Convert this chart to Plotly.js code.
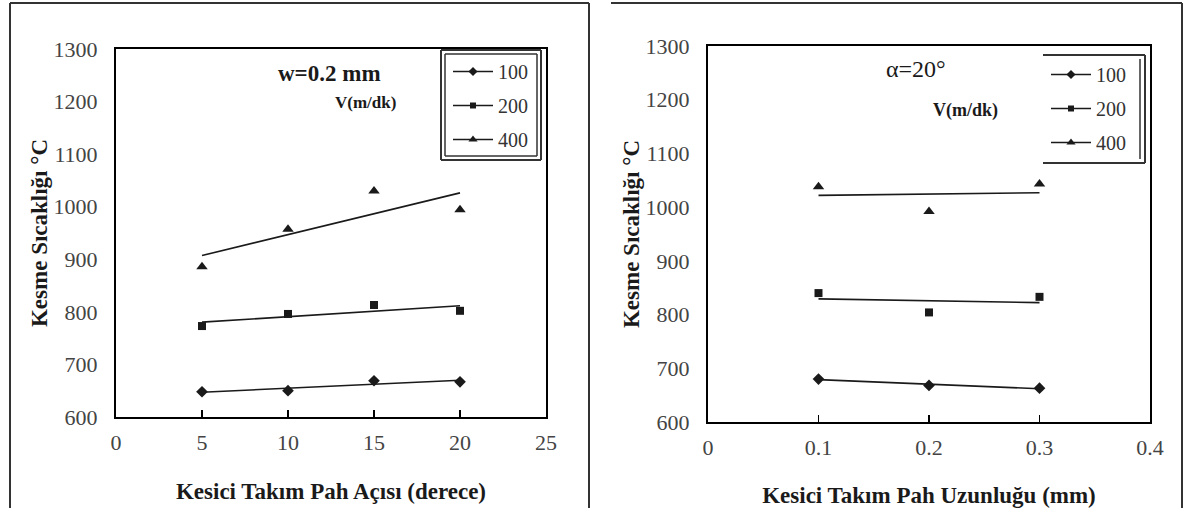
<!DOCTYPE html>
<html>
<head>
<meta charset="utf-8">
<script src="https://cdn.plot.ly/plotly-3.0.1.min.js"></script>
<style>
  html, body { margin: 0; padding: 0; background: #fff; }
  #chart { width: 1188px; height: 508px; }
</style>
</head>
<body>
<div id="chart"></div>
<script>
// Cutting temperature vs. chamfer angle (left) and chamfer length (right)
const speeds = ['100', '200', '400'];            // cutting speed V (m/dk)
const symbols = ['diamond', 'square', 'triangle-up'];
const markerSizes = [9, 8, 10];

// Left panel: chamfer angle (derece), w = 0.2 mm
const angle = [5, 10, 15, 20];
const tempAngleV100 = [648, 650, 669, 667];
const tempAngleV200 = [773, 796, 813, 802];
const tempAngleV400 = [886, 957, 1030, 994];

// Right panel: chamfer length (mm), alpha = 20°
const chamferLength = [0.1, 0.2, 0.3];
const tempLengthV100 = [680, 668, 663];
const tempLengthV200 = [840, 804, 833];
const tempLengthV400 = [1038, 992, 1043];

const leftTicks = [0, 5, 10, 15, 20, 25];
const rightTicks = [0, 0.1, 0.2, 0.3, 0.4];
const yTicks = [600, 700, 800, 900, 1000, 1100, 1200, 1300];

const W = 1188, H = 508;
const px = x => x / W;
const py = y => 1 - y / H;
const FONT = 'Liberation Serif';
const ink = '#1a1a1a';

// least-squares straight line through a series, evaluated at its end points
function linearFit(xs, ys) {
  const n = xs.length;
  const mx = xs.reduce((a, b) => a + b, 0) / n;
  const my = ys.reduce((a, b) => a + b, 0) / n;
  let sxy = 0, sxx = 0;
  xs.forEach((x, i) => { sxy += (x - mx) * (ys[i] - my); sxx += (x - mx) * (x - mx); });
  const b = sxy / sxx, a = my - b * mx;
  const x0 = Math.min(...xs), x1 = Math.max(...xs);
  return { x: [x0, x1], y: [a + b * x0, a + b * x1] };
}

const traces = [];
function addPanel(xs, seriesList, xa, ya, legendName) {
  seriesList.forEach((ys, i) => {
    const fit = linearFit(xs, ys);
    traces.push({
      x: fit.x, y: fit.y, xaxis: xa, yaxis: ya, mode: 'lines',
      line: { color: ink, width: 1.6 }, showlegend: false, hoverinfo: 'skip'
    });
    traces.push({
      x: xs, y: ys, xaxis: xa, yaxis: ya, mode: 'markers',
      marker: { symbol: symbols[i], size: markerSizes[i], color: ink },
      showlegend: false
    });
    // legend entry: line with marker
    traces.push({
      x: [null], y: [null], xaxis: xa, yaxis: ya, mode: 'lines+markers',
      name: speeds[i], legend: legendName, legendgroup: legendName + i,
      line: { color: ink, width: 1.6 },
      marker: { symbol: symbols[i], size: markerSizes[i] - 2, color: ink }
    });
  });
}
addPanel(angle, [tempAngleV100, tempAngleV200, tempAngleV400], 'x', 'y', 'legend');
addPanel(chamferLength, [tempLengthV100, tempLengthV200, tempLengthV400], 'x2', 'y2', 'legend2');

const tickFont = { family: FONT, size: 22, color: '#444' };
const titleFont = { family: FONT, size: 23, color: ink };

function xAxis(domain, range, ticks, title, anchor) {
  return {
    domain, range, tickvals: ticks, ticktext: ticks.map(String), anchor,
    ticks: 'inside', ticklen: 7, tickwidth: 1.5, tickcolor: '#000',
    showline: true, mirror: true, linecolor: '#000', linewidth: 2,
    showgrid: false, zeroline: false, tickfont: tickFont, ticklabelstandoff: 5,
    title: { text: '<b>' + title + '</b>', font: titleFont, standoff: 28 },
    automargin: false
  };
}
function yAxis(domain, anchor) {
  return {
    domain, range: [600, 1300], tickvals: yTicks, anchor,
    ticks: '', showline: true, mirror: true, linecolor: '#000', linewidth: 2,
    showgrid: false, zeroline: false, tickfont: tickFont, ticklabelstandoff: 12,
    title: { text: '<b>Kesme Sıcaklığı °C</b>', font: titleFont, standoff: 0 },
    automargin: false
  };
}

const frame = { type: 'line', xref: 'paper', yref: 'paper', line: { color: '#333', width: 2 } };
const seg = (x0, y0, x1, y1, extra) =>
  Object.assign({}, frame, { x0: px(x0), y0: py(y0), x1: px(x1), y1: py(y1) }, extra || {});
const thin = { line: { color: '#333', width: 1.5 } };

const shapes = [
  // left panel frame
  seg(10, 3, 589, 3), seg(10, 3, 10, 508), seg(589, 3, 589, 508),
  // right panel frame (top and right)
  seg(611, 3, 1182, 3), seg(1182, 3, 1182, 508),
  // left legend box, double outline
  seg(441, 50, 541, 50), seg(441, 160, 541, 160), seg(441, 50, 441, 160), seg(541, 50, 541, 160),
  seg(445, 54, 537, 54, thin), seg(445, 156, 537, 156, thin),
  seg(445, 54, 445, 156, thin), seg(537, 54, 537, 156, thin),
  // right legend box, open on the left
  seg(1043, 55, 1145, 55), seg(1043, 163, 1145, 163), seg(1145, 55, 1145, 163),
  seg(1140, 59, 1140, 159, thin)
];

const ann = (x, y, text, size) => ({
  xref: 'paper', yref: 'paper', x: px(x), y: py(y), xanchor: 'left', yanchor: 'middle',
  text, showarrow: false, font: { family: FONT, size, color: ink }
});
const annotations = [
  ann(276, 74, '<b>w=0.2 mm</b>', 23),
  ann(333, 103, '<b>V(m/dk)</b>', 17),
  ann(884, 69, 'α=20°', 24),
  ann(931, 110, '<b>V(m/dk)</b>', 18)
];

const legendBase = {
  xanchor: 'left', yanchor: 'top', bgcolor: 'rgba(0,0,0,0)', borderwidth: 0,
  font: { family: FONT, size: 20, color: '#333' }, tracegroupgap: 5, itemwidth: 40
};

const layout = {
  width: W, height: H, margin: { l: 0, r: 0, t: 0, b: 0 },
  font: { family: FONT },
  paper_bgcolor: '#fff', plot_bgcolor: '#fff', showlegend: true,
  xaxis: xAxis([px(116), px(546)], [0, 25], leftTicks, 'Kesici Takım Pah Açısı (derece)', 'y'),
  yaxis: yAxis([py(417), py(49)], 'x'),
  xaxis2: xAxis([px(708), px(1150)], [0, 0.4], rightTicks, 'Kesici Takım Pah Uzunluğu (mm)', 'y2'),
  yaxis2: yAxis([py(422), py(46)], 'x2'),
  legend: Object.assign({}, legendBase, { x: px(448), y: py(52) }),
  legend2: Object.assign({}, legendBase, { x: px(1046), y: py(55) }),
  shapes, annotations
};

Plotly.newPlot('chart', traces, layout, { staticPlot: true, displayModeBar: false });
</script>
</body>
</html>
